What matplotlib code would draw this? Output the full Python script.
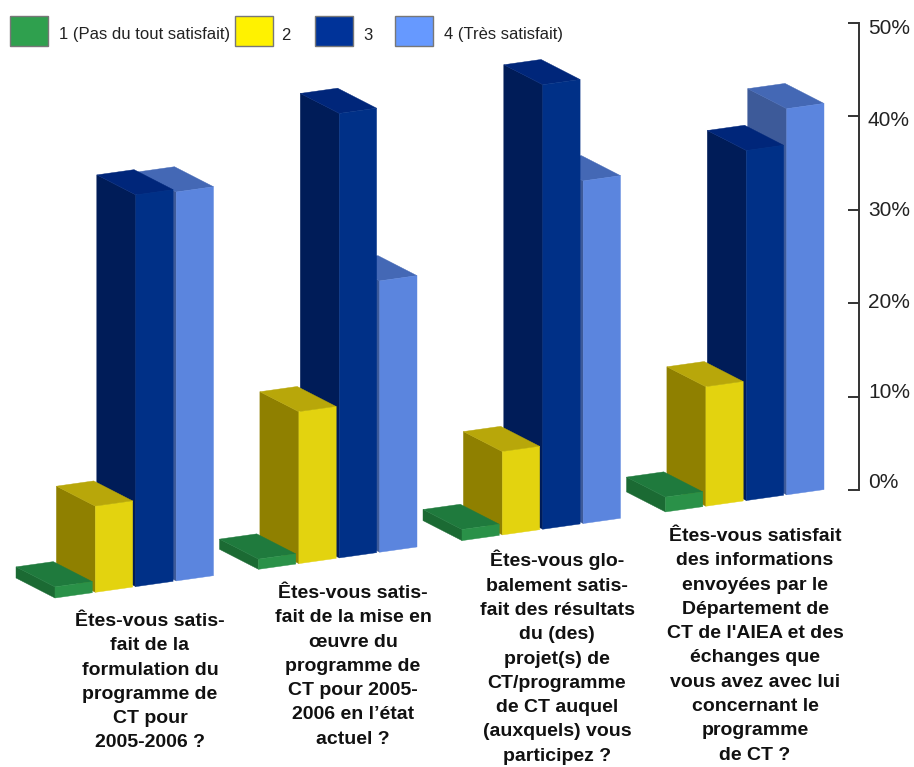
import matplotlib
matplotlib.use("Agg")
import matplotlib.pyplot as plt
from matplotlib.patches import Polygon, Rectangle

plt.rcParams['font.family'] = ['Liberation Sans', 'DejaVu Sans']

series = ["1 (Pas du tout satisfait)", "2", "3", "4 (Très satisfait)"]
green = [1.2, 1.1, 1.2, 1.6]
yellow = [9.3, 16.4, 9.0, 12.9]
darkblue = [42.3, 48.0, 48.0, 37.8]
lightblue = [42.0, 29.3, 37.0, 41.7]
values = [green, yellow, darkblue, lightblue]

questions = [
    "Êtes-vous satis-\nfait de la\nformulation du\nprogramme de\nCT pour\n2005-2006 ?",
    "Êtes-vous satis-\nfait de la mise en\nœuvre du\nprogramme de\nCT pour 2005-\n2006 en l’état\nactuel ?",
    "Êtes-vous glo-\nbalement satis-\nfait des résultats\ndu (des)\nprojet(s) de\nCT/programme\nde CT auquel\n(auxquels) vous\nparticipez ?",
    "Êtes-vous satisfait\ndes informations\nenvoyées par le\nDépartement de\nCT de l'AIEA et des\néchanges que\nvous avez avec lui\nconcernant le\nprogramme\nde CT ?",
]
ticks = [0, 10, 20, 30, 40, 50]
ticklabels = ["0%", "10%", "20%", "30%", "40%", "50%"]

front = ["#2a9148", "#e3d30f", "#003087", "#5b85de"]
side = ["#1b6a33", "#8f8000", "#001c58", "#3d5a99"]
top = ["#1f7a3d", "#b8a70a", "#00267a", "#4468b5"]
legend_col = ["#2fa04e", "#fff200", "#003399", "#6699ff"]

W, H = 914, 767
fig = plt.figure(figsize=(W / 100, H / 100), dpi=100)
ax = fig.add_axes([0, 0, 1, 1])
ax.set_xlim(0, W)
ax.set_ylim(H, 0)
ax.axis('off')

# layout of the fake 3d, in pixels
X0, Y0 = 55, 598
SLOPE = 0.141
SCALE = 9.26
GROUP_STEP = 203.5
BAR_STEP = 40.4
BAR_W = 37.3
DX, DY = -39, -20


def project(x, val, depth):
    # x = pixels along the floor, val = percent, depth = 0 front, 1 back
    return (X0 + x + DX * depth, Y0 - SLOPE * x - SCALE * val + DY * depth)


def draw_bar(x, val, i):
    a = project(x, 0, 0)
    b = project(x + BAR_W, 0, 0)
    c = project(x + BAR_W, val, 0)
    d = project(x, val, 0)
    e = project(x, val, 1)
    f = project(x + BAR_W, val, 1)
    g = project(x, 0, 1)
    ax.add_patch(Polygon([g, a, d, e], fc=side[i], ec=side[i], lw=0.3))
    ax.add_patch(Polygon([e, d, c, f], fc=top[i], ec=top[i], lw=0.3))
    ax.add_patch(Polygon([a, b, c, d], fc=front[i], ec=front[i], lw=0.3))


# right to left, the left bars stand in front
for g in range(3, -1, -1):
    for i in range(3, -1, -1):
        draw_bar(g * GROUP_STEP + i * BAR_STEP, values[i][g], i)

# legend
box_x = [10, 235, 315, 395]
text_x = [59, 281, 363, 444]
for i in range(4):
    ax.add_patch(Rectangle((box_x[i], 16), 37.5, 30, fc=legend_col[i], ec="#777777", lw=1))
    ax.text(text_x[i], 35, series[i], fontsize=12, color="#222222", va='center', ha='left')

# questions
centers = [150, 353, 557, 755]
tops = [613, 585, 550, 528]
for g in range(4):
    ax.text(centers[g], tops[g], questions[g], fontsize=14, fontweight='bold', color="#111111",
            ha='center', va='top', linespacing=1.56)

# value axis
ax2 = fig.add_axes([858.5 / W, 1 - 490 / H, 1 / W, 467 / H])
ax2.patch.set_alpha(0)
ax2.set_ylim(0, 50)
ax2.set_xticks([])
ax2.set_yticks(ticks)
ax2.set_yticklabels([])
for s in ['top', 'right', 'bottom']:
    ax2.spines[s].set_visible(False)
ax2.spines['left'].set_linewidth(1.4)
ax2.spines['left'].set_color("#333333")
ax2.tick_params(axis='y', left=True, right=False, length=8, width=1.4, color="#333333")

label_y = [483, 393, 303, 210, 120, 28]
for lab, y in zip(ticklabels, label_y):
    ax.text(868, y, lab, fontsize=15, color="#222222", ha='left', va='center')

fig.savefig("out.png", dpi=100)
